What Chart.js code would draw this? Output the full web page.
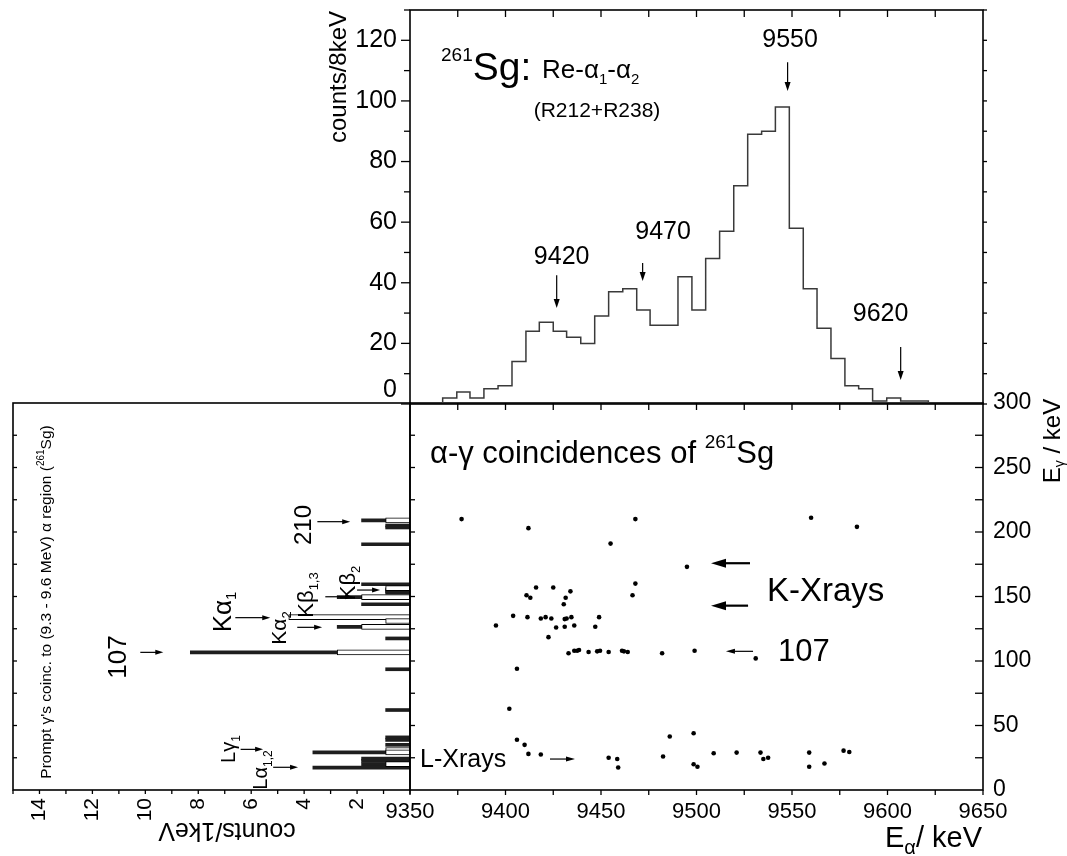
<!DOCTYPE html>
<html>
<head>
<meta charset="utf-8">
<script src="https://cdn.jsdelivr.net/npm/chart.js@4.4.1/dist/chart.umd.min.js"></script>
<style>
  html, body { margin: 0; padding: 0; background: #fff; }
  #wrap { position: relative; width: 1067px; height: 856px; }
  canvas { position: absolute; left: 0; top: 0; }
</style>
</head>
<body>
<div id="wrap">
  <canvas id="cLeft" width="1067" height="856"></canvas>
  <canvas id="cScat" width="1067" height="856"></canvas>
  <canvas id="cTop" width="1067" height="856"></canvas>
</div>
<script>
const FONT = '"Liberation Sans", Arial, Helvetica, sans-serif';

// --- top: alpha spectrum (bin edges keV, counts per bin)
const binEdges = [9367.1, 9374.5, 9381.4, 9388.7, 9396.1, 9403.4, 9410.7, 9417.7, 9425.0, 9432.0, 9439.4, 9446.7,
  9454.0, 9461.4, 9468.7, 9475.7, 9483.0, 9490.3, 9497.6, 9504.8, 9512.1, 9519.5, 9526.8, 9534.1, 9541.3, 9548.6,
  9555.9, 9563.1, 9570.4, 9577.7, 9584.9, 9592.2, 9599.6, 9606.9, 9614.0, 9621.4, 9628.7];
const binCounts = [1, 2, 4, 2, 5, 6, 14, 24, 27, 24, 22, 20, 29, 37, 38, 31, 26, 26, 42, 31, 48, 57, 72, 89, 90, 98,
  58, 38, 25, 15, 6, 5, 1, 2, 1, 1];
const peakLabels = ['9420', '9470', '9550', '9620'];
const peakLabelE = [9429.4, 9482.5, 9549, 9596.4];
const peakLabelY = [49.1, 57.4, 120.7, 30.3];
const peakArrowE = [9426.8, 9471.8, 9547.7, 9606.9];
const peakArrowFrom = [42.5, 46.5, 112.8, 18.8];
const peakArrowTo = [31.7, 40.6, 103.3, 7.9];

// --- right: alpha-gamma coincidences (E alpha, E gamma)
const alphaE = [9377, 9412, 9468, 9560, 9584, 9455, 9495, 9416, 9425, 9411, 9413, 9434, 9431.5, 9430.5, 9468, 9466.5,
  9404, 9411.5, 9418.5, 9421, 9424, 9431, 9432, 9434.5, 9449, 9395, 9426.5, 9431, 9436, 9447, 9422.5,
  9433, 9436, 9437.5, 9438.5, 9443.5, 9448, 9449.5, 9454, 9461, 9462, 9464, 9482, 9499, 9531,
  9406, 9402, 9406, 9410, 9412, 9418.5, 9454, 9458.5, 9459, 9482.5, 9486, 9498.5, 9498.5, 9500.5, 9509, 9521,
  9533.5, 9535, 9537.5, 9559, 9559, 9567, 9577, 9580];
const gammaE = [210, 203, 210, 211, 204, 191, 173, 157, 157, 151, 149, 154, 149, 144, 160, 151,
  135, 134, 133, 134, 133, 132.5, 133, 134, 134, 127.5, 126, 126.5, 127.5, 126.5, 118.5,
  106, 108, 108, 108.5, 107, 107.5, 108, 107, 108, 107.5, 107, 106, 108, 102,
  94, 63, 39, 35, 28, 27.5, 25, 24, 17.5, 26, 41.5, 44, 20, 18, 28.5, 29,
  29, 24, 25, 29, 18, 20.5, 30.5, 29.5];

// --- left: prompt gamma spectrum (E gamma keV, counts / 1keV)
const promptE = [209, 205, 203.5, 190.5, 159.5, 155.5, 154, 153, 149.5, 144, 126.5, 117.5, 106.7, 93.6, 62,
  40.8, 38.8, 35, 29.2, 24.3, 22.6, 20, 17.3];
const promptCounts = [1.83, 0.92, 0.92, 1.83, 1.83, 0.92, 0.92, 0.92, 2.75, 1.83, 2.75, 0.92, 8.3, 0.92, 0.92,
  0.92, 0.92, 0.92, 3.67, 1.83, 1.83, 1.83, 3.67];
const gateE = [209, 156.5, 149.5, 134, 131, 126.5, 106.7, 31, 29.2, 20];
const gateCounts = [0.92, 0.92, 1.83, 4.58, 0.92, 1.83, 2.75, 0.92, 0.92, 0.92];

Chart.defaults.font.family = FONT;
Chart.defaults.color = '#000';
Chart.defaults.animation = false;
Chart.defaults.plugins.legend.display = false;
Chart.defaults.plugins.tooltip.enabled = false;

// helpers
function line(ctx, x1, y1, x2, y2) { ctx.beginPath(); ctx.moveTo(x1, y1); ctx.lineTo(x2, y2); ctx.stroke(); }

function arrow(ctx, x1, y1, x2, y2, head, hw, lw) {
  const a = Math.atan2(y2 - y1, x2 - x1);
  ctx.save();
  ctx.strokeStyle = '#000'; ctx.fillStyle = '#000'; ctx.lineWidth = lw;
  line(ctx, x1, y1, x2 - head * 0.7 * Math.cos(a), y2 - head * 0.7 * Math.sin(a));
  ctx.translate(x2, y2); ctx.rotate(a);
  ctx.beginPath(); ctx.moveTo(0, 0); ctx.lineTo(-head, -hw); ctx.lineTo(-head, hw); ctx.closePath(); ctx.fill();
  ctx.restore();
}

// parts: [{t, s, dy}]; y is baseline unless mid=true (then y is the text middle)
function rich(ctx, x, y, parts, align, rot, mid) {
  ctx.save();
  ctx.translate(x, y); ctx.rotate(rot || 0);
  let w = 0, big = 0;
  parts.forEach(p => { ctx.font = p.s + 'px ' + FONT; p.w = ctx.measureText(p.t).width; w += p.w; big = Math.max(big, p.s); });
  let cx = align === 'center' ? -w / 2 : align === 'right' ? -w : 0;
  const by = mid ? big * 0.36 : 0;
  ctx.fillStyle = '#000'; ctx.textBaseline = 'alphabetic'; ctx.textAlign = 'left';
  parts.forEach(p => { ctx.font = p.s + 'px ' + FONT; ctx.fillText(p.t, cx, by + (p.dy || 0)); cx += p.w; });
  ctx.restore();
}

function fixFit(w, h) {
  return s => {
    if (w != null) s.width = w;
    if (h != null) s.height = h;
    s.paddingLeft = 0; s.paddingRight = 0; s.paddingTop = 0; s.paddingBottom = 0;
  };
}
const noGrid = { display: false, drawTicks: false };

// ---------------- top chart ----------------
const histPts = [{ x: binEdges[0], y: 0 }];
binCounts.forEach((c, i) => histPts.push({ x: binEdges[i], y: c }));
histPts.push({ x: binEdges[binEdges.length - 1], y: 0 });

const topDecor = {
  id: 'topDecor',
  afterDraw(chart) {
    const ctx = chart.ctx, a = chart.chartArea, xs = chart.scales.x, ys = chart.scales.y;
    ctx.save();
    ctx.strokeStyle = '#000'; ctx.lineWidth = 1.6;
    ctx.strokeRect(a.left, a.top, a.right - a.left, a.bottom - a.top);
    ctx.lineWidth = 1.3;
    for (let v = 0; v <= 130; v += 10) {
      const y = ys.getPixelForValue(v);
      line(ctx, a.left - (v % 20 === 0 ? 9 : 6), y, a.left, y);
      line(ctx, a.right, y, a.right + 4, y);
    }
    for (let v = 9375; v < 9650; v += 25) {
      const x = xs.getPixelForValue(v);
      line(ctx, x, a.top, x, a.top + 7);
    }
    // peak labels and arrows
    peakLabels.forEach((t, i) => {
      rich(ctx, xs.getPixelForValue(peakLabelE[i]), ys.getPixelForValue(peakLabelY[i]), [{ t, s: 25 }], 'center', 0, true);
      const x = xs.getPixelForValue(peakArrowE[i]);
      arrow(ctx, x, ys.getPixelForValue(peakArrowFrom[i]), x, ys.getPixelForValue(peakArrowTo[i]), 9, 3, 1.2);
    });
    // zero label, shifted up as in the original
    rich(ctx, 397, ys.getPixelForValue(0) - 16, [{ t: '0', s: 25 }], 'right', 0, true);
    // axis title
    rich(ctx, 337, 77, [{ t: 'counts/8keV', s: 24 }], 'center', -Math.PI / 2, true);
    // panel title
    rich(ctx, 441, 80, [{ t: '261', s: 19, dy: -19 }, { t: 'Sg:', s: 39 }], 'left');
    rich(ctx, 542, 78, [{ t: 'Re-α', s: 26 }, { t: '1', s: 15, dy: 6 }, { t: '-α', s: 26 }, { t: '2', s: 15, dy: 6 }], 'left');
    rich(ctx, 597, 117, [{ t: '(R212+R238)', s: 21 }], 'center');
    ctx.restore();
  }
};

new Chart(document.getElementById('cTop'), {
  type: 'scatter',
  data: { datasets: [{ data: histPts, showLine: true, stepped: 'after', pointRadius: 0,
    borderColor: '#3a3a3a', borderWidth: 1.5, fill: false }] },
  options: {
    responsive: false,
    layout: { padding: { left: 0, top: 10, right: 84, bottom: 452 } },
    scales: {
      x: { type: 'linear', min: 9350, max: 9650, display: false },
      y: { type: 'linear', min: 0, max: 130, grid: noGrid, border: { display: false },
        ticks: { stepSize: 20, includeBounds: false, padding: 13, font: { size: 25 }, color: '#000',
          callback: v => v === 0 ? '' : String(v) },
        afterFit: fixFit(410, null) }
    }
  },
  plugins: [topDecor]
});

// ---------------- scatter chart ----------------
const scatDecor = {
  id: 'scatDecor',
  afterDraw(chart) {
    const ctx = chart.ctx, a = chart.chartArea, xs = chart.scales.x, ys = chart.scales.y;
    ctx.save();
    ctx.strokeStyle = '#000'; ctx.lineWidth = 1.6;
    ctx.strokeRect(a.left, a.top, a.right - a.left, a.bottom - a.top);
    ctx.lineWidth = 1.3;
    for (let v = 25; v < 300; v += 25) {
      const y = ys.getPixelForValue(v);
      line(ctx, a.left, y, a.left + 5, y);
      line(ctx, a.right - 8, y, a.right, y);
    }
    for (let v = 9350; v <= 9650; v += 25) {
      const x = xs.getPixelForValue(v);
      if (v > 9350 && v < 9650) line(ctx, x, a.top, x, a.top + 7);
      line(ctx, x, a.bottom, x, a.bottom + 5);
    }
    // K x-ray arrows
    const X = v => xs.getPixelForValue(v), Y = v => ys.getPixelForValue(v);
    arrow(ctx, X(9528), Y(175.8), X(9507.6), Y(175.8), 15, 4.5, 2.2);
    arrow(ctx, X(9527), Y(142.9), X(9507.6), Y(142.9), 15, 4.5, 2.2);
    arrow(ctx, X(9529.6), Y(107.5), X(9515.4), Y(107.5), 9, 2.5, 1.2);
    arrow(ctx, X(9423.3), Y(24), X(9436.4), Y(24), 9, 2.5, 1.2);
    // texts
    rich(ctx, 430, 463, [{ t: 'α-γ coincidences of ', s: 31 }, { t: '261', s: 19, dy: -15 }, { t: 'Sg', s: 31 }], 'left');
    rich(ctx, 767, 601, [{ t: 'K-Xrays', s: 33 }], 'left');
    rich(ctx, 778, 661, [{ t: '107', s: 31 }], 'left');
    rich(ctx, 420, 767, [{ t: 'L-Xrays', s: 25 }], 'left');
    rich(ctx, 1051, 441, [{ t: 'E', s: 24 }, { t: 'γ', s: 14, dy: 4 }, { t: ' / keV', s: 24 }], 'center', -Math.PI / 2, true);
    rich(ctx, 982, 847, [{ t: 'E', s: 29 }, { t: 'α', s: 20, dy: 7 }, { t: '/ keV', s: 29 }], 'right');
    ctx.restore();
  }
};

new Chart(document.getElementById('cScat'), {
  type: 'scatter',
  data: { datasets: [{ data: alphaE.map((e, i) => ({ x: e, y: gammaE[i] })),
    pointRadius: 2.3, pointBackgroundColor: '#000', pointBorderWidth: 0 }] },
  options: {
    responsive: false,
    layout: { padding: { left: 410, top: 403, right: 0, bottom: 0 } },
    scales: {
      x: { type: 'linear', min: 9350, max: 9650, position: 'bottom', grid: noGrid, border: { display: false },
        ticks: { stepSize: 50, padding: 9, font: { size: 22 }, maxRotation: 0, autoSkip: false, color: '#000',
          callback: v => String(v) },
        afterFit: fixFit(null, 66) },
      y: { type: 'linear', min: 0, max: 300, position: 'right', grid: noGrid, border: { display: false },
        ticks: { stepSize: 50, padding: 10, font: { size: 23 }, color: '#000', callback: v => String(v) },
        afterFit: fixFit(84, null) }
    }
  },
  plugins: [scatDecor]
});

// ---------------- left chart ----------------
const leftDecor = {
  id: 'leftDecor',
  afterDraw(chart) {
    const ctx = chart.ctx, a = chart.chartArea, xs = chart.scales.x, ys = chart.scales.y;
    ctx.save();
    ctx.strokeStyle = '#000'; ctx.lineWidth = 1.6;
    ctx.strokeRect(a.left, a.top, a.right - a.left, a.bottom - a.top);
    ctx.lineWidth = 1.3;
    for (let v = 0; v <= 15; v++) {
      const x = xs.getPixelForValue(v);
      line(ctx, x, a.bottom, x, a.bottom + 4);
    }
    for (let v = 25; v < 300; v += 25) {
      const y = ys.getPixelForValue(v);
      line(ctx, a.left, y, a.left + 4, y);
    }
    const X = v => xs.getPixelForValue(v), Y = v => ys.getPixelForValue(v);
    const R = -Math.PI / 2;
    // arrows toward the lines
    arrow(ctx, X(10.19), Y(106.7), X(9.32), Y(106.7), 8, 2.5, 1.2);
    arrow(ctx, X(6.6), Y(133.6), X(5.28), Y(133.6), 8, 2.5, 1.2);
    arrow(ctx, X(4.26), Y(126.1), X(3.32), Y(126.1), 8, 2.5, 1.2);
    arrow(ctx, X(3.2), Y(149.8), X(2.15), Y(149.8), 8, 2.5, 1.2);
    arrow(ctx, X(2.0), Y(155), X(1.13), Y(155), 8, 2.5, 1.2);
    arrow(ctx, X(3.5), Y(208), X(2.26), Y(208), 8, 2.5, 1.2);
    arrow(ctx, X(6.4), Y(31.5), X(5.55), Y(31.5), 8, 2.5, 1.2);
    arrow(ctx, X(5.17), Y(17.6), X(4.23), Y(17.6), 8, 2.5, 1.2);
    // rotated labels
    rich(ctx, 117, 657, [{ t: '107', s: 26 }], 'center', R, true);
    rich(ctx, 222, 612, [{ t: 'Kα', s: 26 }, { t: '1', s: 15, dy: 5 }], 'center', R, true);
    rich(ctx, 278, 628, [{ t: 'Kα', s: 21 }, { t: '2', s: 13, dy: 5 }], 'center', R, true);
    rich(ctx, 305, 595, [{ t: 'Kβ', s: 22 }, { t: '1,3', s: 13, dy: 5 }], 'center', R, true);
    rich(ctx, 347, 583, [{ t: 'Kβ', s: 22 }, { t: '2', s: 13, dy: 5 }], 'center', R, true);
    rich(ctx, 302, 525, [{ t: '210', s: 24 }], 'center', R, true);
    rich(ctx, 228, 749, [{ t: 'Lγ', s: 20 }, { t: '1', s: 12, dy: 5 }], 'center', R, true);
    rich(ctx, 260, 770, [{ t: 'Lα', s: 20 }, { t: '1,2', s: 12, dy: 5 }], 'center', R, true);
    rich(ctx, 45, 602, [{ t: "Prompt γ's coinc. to (9.3 - 9.6 MeV) α region (", s: 15.5 },
      { t: '261', s: 10, dy: -7 }, { t: 'Sg)', s: 15.5 }], 'center', R, true);
    rich(ctx, 227, 832, [{ t: 'counts/1keV', s: 25 }], 'center', Math.PI, true);
    ctx.restore();
  }
};

new Chart(document.getElementById('cLeft'), {
  type: 'bar',
  data: { datasets: [
    { data: gateE.map((e, i) => ({ x: gateCounts[i], y: e })), backgroundColor: '#fff', borderColor: '#000',
      borderWidth: 1, borderSkipped: false, barThickness: 5, grouped: false, order: 0 },
    { data: promptE.map((e, i) => ({ x: promptCounts[i], y: e })), backgroundColor: '#1e1e1e',
      borderWidth: 0, barThickness: 3, grouped: false, order: 1 }
  ] },
  options: {
    indexAxis: 'y',
    responsive: false,
    layout: { padding: { left: 13, top: 403, right: 657, bottom: 0 } },
    scales: {
      x: { type: 'linear', reverse: true, min: 0, max: 15, position: 'bottom', grid: noGrid, border: { display: false },
        ticks: { stepSize: 1, autoSkip: false, minRotation: 90, maxRotation: 90, padding: 8, font: { size: 21 },
          color: '#000', callback: v => (v > 0 && v < 15 && v % 2 === 0) ? String(v) : '' },
        afterFit: fixFit(null, 66) },
      y: { type: 'linear', min: 0, max: 300, display: false, offset: false }
    }
  },
  plugins: [leftDecor]
});
</script>
</body>
</html>
